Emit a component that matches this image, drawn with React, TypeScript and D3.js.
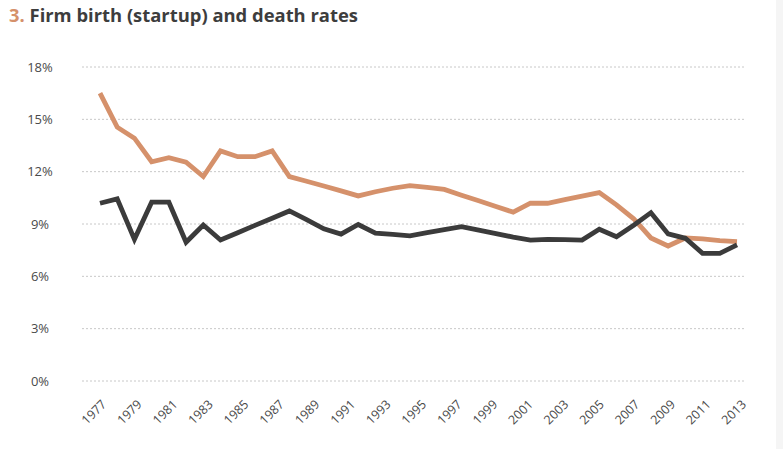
import * as d3 from "d3";

// ---------------------------------------------------------------------------
// Data
// ---------------------------------------------------------------------------

const YEARS = d3.range(1977, 2015);

const BIRTH_RATE = [
  16.5, 14.55, 13.92, 12.57, 12.8, 12.54, 11.72, 13.19, 12.86, 12.86,
  13.19, 11.72, 11.45, 11.18, 10.9, 10.61, 10.85, 11.05, 11.2, 11.1,
  10.98, 10.65, 10.33, 10.0, 9.68, 10.2, 10.19, 10.4, 10.6, 10.8,
  10.1, 9.3, 8.2, 7.74, 8.2, 8.15, 8.05, 7.99,
];

const DEATH_RATE = [
  10.19, 10.44, 8.12, 10.25, 10.25, 7.95, 8.94, 8.08, 8.5, 8.92,
  9.33, 9.75, 9.25, 8.72, 8.42, 8.97, 8.47, 8.4, 8.32, 8.5,
  8.68, 8.85, 8.65, 8.45, 8.25, 8.08, 8.12, 8.1, 8.08, 8.7,
  8.27, 8.93, 9.65, 8.43, 8.18, 7.32, 7.32, 7.8,
];

const Y_TICKS = [0, 3, 6, 9, 12, 15, 18];
const X_TICK_LABELS = d3.range(1977, 2014, 2).map(String);

// ---------------------------------------------------------------------------
// Palette / layout
// ---------------------------------------------------------------------------

const BIRTH_COLOR = "#d5916b";
const DEATH_COLOR = "#3b3b3b";
const TITLE_FILL = "#3d3d3d";
const LABEL_FILL = "#4a4a4a";
const GRID_STROKE = "#c8c8c8";
const FONT = "'Open Sans', sans-serif";

const W = 783;
const H = 449;
const PLOT = { left: 100, right: 737, top: 67, bottom: 381 };
const GRID_X0 = 82;
const GRID_X1 = 746;

export default function App() {
  const x = d3
    .scalePoint<number>()
    .domain(YEARS)
    .range([PLOT.left, PLOT.right]);

  // axis labels sit on their own evenly spaced positions in the original
  const xLabel = d3
    .scalePoint<string>()
    .domain(X_TICK_LABELS)
    .range([PLOT.left, 740]);

  const y = d3.scaleLinear().domain([0, 18]).range([PLOT.bottom, PLOT.top]);

  const line = d3
    .line<number>()
    .x((_, i) => x(YEARS[i]) ?? 0)
    .y((d) => y(d));

  return (
    <svg
      width={W}
      height={H}
      style={{ position: "fixed", top: 0, left: 0, background: "#fff" }}
    >
      <rect x={776} y={0} width={W - 776} height={H} fill="#f5f5f5" />

      {/* Title */}
      <text x={9} y={22} fontFamily={FONT} fontSize={18.4} fontWeight={700}>
        <tspan fill={BIRTH_COLOR}>3.</tspan>
        <tspan fill={TITLE_FILL}> Firm birth (startup) and death rates</tspan>
      </text>

      {/* Gridlines + y labels */}
      {Y_TICKS.map((t) => (
        <g key={t}>
          <line
            x1={GRID_X0}
            x2={GRID_X1}
            y1={y(t)}
            y2={y(t)}
            stroke={GRID_STROKE}
            strokeWidth={1}
            strokeDasharray="2,2"
          />
          <text
            x={40}
            y={y(t)}
            dy="0.35em"
            textAnchor="middle"
            fontFamily={FONT}
            fontSize={13}
            fill={LABEL_FILL}
          >
            {t}%
          </text>
        </g>
      ))}

      {/* X labels */}
      {X_TICK_LABELS.map((l) => (
        <text
          key={l}
          transform={`translate(${(xLabel(l) ?? 0) + 4},${402}) rotate(-45)`}
          textAnchor="end"
          dy="0.35em"
          fontFamily={FONT}
          fontSize={12.5}
          fill={LABEL_FILL}
        >
          {l}
        </text>
      ))}

      {/* Lines */}
      <path
        d={line(BIRTH_RATE) ?? ""}
        fill="none"
        stroke={BIRTH_COLOR}
        strokeWidth={4.8}
        strokeLinejoin="miter"
      />
      <path
        d={line(DEATH_RATE) ?? ""}
        fill="none"
        stroke={DEATH_COLOR}
        strokeWidth={4.8}
        strokeLinejoin="miter"
      />
    </svg>
  );
}
